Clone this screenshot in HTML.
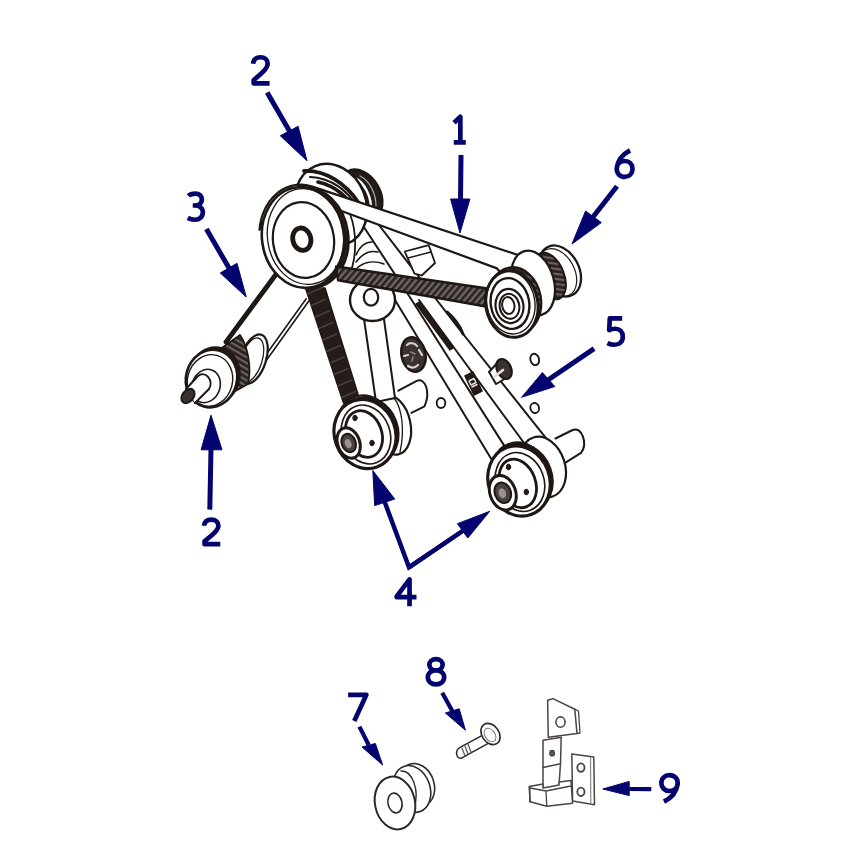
<!DOCTYPE html>
<html><head><meta charset="utf-8"><style>
html,body{margin:0;padding:0;background:#fff;}
body{width:842px;height:858px;overflow:hidden;font-family:"Liberation Sans",sans-serif;}
svg{display:block;}
</style></head><body>
<svg width="842" height="858" viewBox="0 0 842 858">
<rect width="842" height="858" fill="#fff"/>
<defs>
<pattern id="hatch" width="5" height="5" patternUnits="userSpaceOnUse" patternTransform="rotate(40)">
<rect width="5" height="5" fill="#6e6662"/><rect width="2.6" height="5" fill="#2a2220"/></pattern>
<pattern id="hatchd" width="5" height="5" patternUnits="userSpaceOnUse" patternTransform="rotate(-60)">
<rect width="5" height="5" fill="#6a605c"/><rect width="2.8" height="5" fill="#2a2220"/></pattern>
</defs>
<g fill="none" stroke="#1e1713" stroke-linejoin="round" stroke-linecap="round">

<path d="M306.2,298.8 L250,377" stroke-width="1.6" fill="none" />
<path d="M309.2,300.5 L253,379" stroke-width="1.6" fill="none" />
<ellipse cx="253.5" cy="359" rx="12.5" ry="25.5" transform="rotate(18 253.5 359)" fill="#fff" stroke-width="2.2" />
<ellipse cx="251.5" cy="360" rx="10.5" ry="23" transform="rotate(18 251.5 360)" fill="none" stroke-width="1.2" />
<path d="M219,350 L240,335 C247,345 252,366 248,384 L230,394 Z" fill="url(#hatchd)" stroke-width="1.8" />
<path d="M277,273 L226,342" stroke-width="4.8" fill="none" />
<ellipse cx="214" cy="376" rx="25.5" ry="29" transform="rotate(15 214 376)" fill="#241c19" stroke-width="2" />
<ellipse cx="211.5" cy="378.5" rx="25.5" ry="29" transform="rotate(15 211.5 378.5)" fill="#fff" stroke-width="2.6" />
<ellipse cx="210" cy="380.5" rx="22.5" ry="26" transform="rotate(15 210 380.5)" fill="none" stroke-width="1.4" />
<ellipse cx="206" cy="386" rx="14" ry="17" transform="rotate(20 206 386)" fill="none" stroke-width="1.6" />
<path d="M186,389 L198,376 C206,370 214,381 209,389 L195,403" fill="#fff" stroke-width="2" />
<ellipse cx="188" cy="396" rx="5.6" ry="8" transform="rotate(38 188 396)" fill="#3a3230" stroke-width="2" />
<path d="M382,278 L395.6,301 L491,458.5" stroke-width="2" fill="none" />
<path d="M356,215 L409.8,297 L504.2,445.6" stroke-width="2" fill="none" />
<path d="M419,300 L441,330 L527,447" stroke-width="2" fill="none" />
<path d="M372,216 L459.9,330 L549.8,442.8" stroke-width="2" fill="none" />
<polygon points="416,304 420,302 453,348 450,350" fill="#241c19" stroke-width="1.4" />
<polygon points="465,376 473,372 482,391 474,395" fill="#241c19" stroke-width="1.5" />
<path d="M469,381 l5,-2.5 l2,4 l-5,2.5 Z M472,387 l5,-2.5" fill="none" stroke-width="1.4" stroke="#e8e0dc" />
<polygon points="305.5,288 325,288 358.5,396 343.5,403" fill="#241c19" stroke-width="1.5" />
<path d="M307.5,294.0 l14,-6" stroke="#4a403c" stroke-width="1.4"/>
<path d="M311.3,305.5 l14,-6" stroke="#4a403c" stroke-width="1.4"/>
<path d="M315.1,317.0 l14,-6" stroke="#4a403c" stroke-width="1.4"/>
<path d="M318.9,328.5 l14,-6" stroke="#4a403c" stroke-width="1.4"/>
<path d="M322.7,340.0 l14,-6" stroke="#4a403c" stroke-width="1.4"/>
<path d="M326.5,351.5 l14,-6" stroke="#4a403c" stroke-width="1.4"/>
<path d="M330.3,363.0 l14,-6" stroke="#4a403c" stroke-width="1.4"/>
<path d="M334.1,374.5 l14,-6" stroke="#4a403c" stroke-width="1.4"/>
<path d="M337.9,386.0 l14,-6" stroke="#4a403c" stroke-width="1.4"/>
<path d="M341.7,397.5 l14,-6" stroke="#4a403c" stroke-width="1.4"/>
<ellipse cx="392" cy="425" rx="18.5" ry="30" transform="rotate(-12 392 425)" fill="#fff" stroke-width="2.2" />
<path d="M394,398 C402,408 405,430 400,452" fill="none" stroke-width="1.3" />
<polygon points="362,305 382,305 395,398 376,402" fill="#fff" stroke-width="2" />
<ellipse cx="372.5" cy="300" rx="22.5" ry="21" fill="#fff" stroke-width="2.4" />
<ellipse cx="371" cy="297.3" rx="7.2" ry="8.4" fill="#fff" stroke-width="2.2" />
<ellipse cx="413.5" cy="354.5" rx="12" ry="17.5" transform="rotate(-12 413.5 354.5)" fill="#3a3230" stroke-width="2.4" />
<path d="M407,345 C410,342 415,343 417,346 M404,356 l4,-1 M408,366 C411,368 415,368 418,365 M419,350 l3,5" fill="none" stroke-width="2.2" stroke="#d8d0cc" />
<path d="M411,352 l4,2 M413,357 l-1,4" fill="none" stroke-width="1.6" stroke="#8a807c" />
<path d="M398.4,390.7 L416.7,380.9 C425,377 431,392 424.5,406.4 L411.4,412.9" fill="#fff" stroke-width="2" />
<path d="M555.5,438.5 L572.6,430 C582,426 588,444 581,452.8 L565.5,462.7" fill="#fff" stroke-width="2" />
<path d="M489,372 L499,361 L508,377 L496,384 Z" fill="#fff" stroke-width="2" />
<ellipse cx="504" cy="369" rx="7" ry="10.5" transform="rotate(-25 504 369)" fill="#3a3230" stroke-width="2.2" />
<path d="M494,377 l9,-7" fill="none" stroke-width="2.6" stroke="#e8e0dc" />
<path d="M447,312 C454,318 460,326 463,334" fill="none" stroke-width="3" />
<ellipse cx="361" cy="195" rx="19" ry="27" transform="rotate(-30 361 195)" fill="#241c19" stroke-width="2.6" />
<path d="M354,178 C365,182 372,198 371,212" fill="none" stroke-width="2.4" stroke="#fff" />
<path d="M360,176 C370,181 376,194 376,206" fill="none" stroke-width="1.2" stroke="#aaa" />
<ellipse cx="331" cy="205" rx="35" ry="42" transform="rotate(-22 331 205)" fill="#fff" stroke-width="2.5" />
<path d="M304,171 C326,170 346,184 358,202" fill="none" stroke-width="3.8" />
<path d="M310,177 C332,178 348,191 357,207" fill="none" stroke-width="2.2" />
<path d="M318,182 C336,186 349,198 355,212" fill="none" stroke-width="3.6" />
<path d="M259.5,229.8 L260.3,223.5 L261.7,217.4 L263.8,211.7 L266.4,206.3 L269.5,201.4 L273.2,197.0 L277.2,193.2 L281.7,190.0 L286.5,187.6 L291.5,185.9 L296.7,184.9 L301.9,184.7 L307.2,185.3 L312.4,186.6 L530,259 L512,285 L497,268.4 L336,209 C326,197 312,190 296,190 C284,192 270,204 259.5,229.8 Z" fill="#fff" stroke-width="2.2" />
<ellipse cx="308.5" cy="237.5" rx="40" ry="50.5" transform="rotate(-8 308.5 237.5)" fill="#241c19" stroke-width="2" />
<path d="M350,214 C357,232 357,258 349,276" fill="none" stroke-width="1.8" />
<path d="M356,262 C362,254 370,250 378,252 M356,255 C360,246 366,242 372,242 M357,268 C364,262 374,260 384,264" fill="none" stroke-width="1.5" />
<ellipse cx="303" cy="237.5" rx="41" ry="50.5" transform="rotate(-8 303 237.5)" fill="#fff" stroke-width="2.6" />
<ellipse cx="305.5" cy="236.5" rx="38" ry="48" transform="rotate(-8 305.5 236.5)" fill="none" stroke-width="1.3" />
<ellipse cx="303.5" cy="240" rx="30.5" ry="38" transform="rotate(-8 303.5 240)" fill="#fff" stroke-width="2.2" />
<ellipse cx="301.8" cy="239.2" rx="9" ry="11.3" transform="rotate(-14 301.8 239.2)" fill="none" stroke-width="4.8" />
<polygon points="336,266.5 486,288.2 486,306.5 338,280.2" fill="url(#hatch)" stroke-width="2.4" />
<polygon points="404.7,251.5 428.8,245.2 435,263 421.7,275.5 414.5,273.7" fill="#fff" stroke-width="1.8" />
<path d="M408,258 L431,252" stroke-width="1.4" fill="none" />
<ellipse cx="560" cy="271" rx="19" ry="27" transform="rotate(-28 560 271)" fill="#fff" stroke-width="2.3" />
<ellipse cx="557.5" cy="272.5" rx="17" ry="25.5" transform="rotate(-28 557.5 272.5)" fill="none" stroke-width="1.2" />
<ellipse cx="550" cy="276" rx="14" ry="24.5" transform="rotate(-22 550 276)" fill="url(#hatchd)" stroke-width="2" />
<ellipse cx="533" cy="283" rx="21" ry="33" transform="rotate(-15 533 283)" fill="#fff" stroke-width="2.3" />
<ellipse cx="515" cy="300.5" rx="26" ry="33.5" transform="rotate(-10 515 300.5)" fill="url(#hatchd)" stroke-width="2.2" />
<ellipse cx="511.8" cy="304" rx="26" ry="33.5" transform="rotate(-10 511.8 304)" fill="#fff" stroke-width="3" />
<ellipse cx="510.8" cy="302.6" rx="24" ry="31.5" transform="rotate(-10 510.8 302.6)" fill="none" stroke-width="1.4" />
<ellipse cx="510" cy="303.5" rx="19.2" ry="25.5" transform="rotate(-10 510 303.5)" fill="none" stroke-width="2.4" />
<ellipse cx="509.5" cy="306" rx="13.9" ry="17.1" transform="rotate(-10 509.5 306)" fill="none" stroke-width="2.2" />
<ellipse cx="509.5" cy="306.3" rx="9.8" ry="12.6" transform="rotate(-10 509.5 306.3)" fill="none" stroke-width="2" />
<ellipse cx="508.3" cy="305.5" rx="6.1" ry="8.5" transform="rotate(-10 508.3 305.5)" fill="none" stroke-width="2" />
<ellipse cx="366" cy="428" rx="28" ry="33" transform="rotate(-20 366 428)" fill="#fff" stroke-width="2.2" />
<ellipse cx="367.5" cy="431.5" rx="30.5" ry="35" transform="rotate(-20 367.5 431.5)" fill="#241c19" stroke-width="2" />
<ellipse cx="365" cy="434" rx="30.5" ry="35" transform="rotate(-20 365 434)" fill="#fff" stroke-width="3.2" />
<ellipse cx="366" cy="434.5" rx="24" ry="30" transform="rotate(-20 366 434.5)" fill="none" stroke-width="1.6" />
<ellipse cx="364" cy="434" rx="17.7" ry="24" transform="rotate(-20 364 434)" fill="none" stroke-width="2.8" />
<ellipse cx="348.7" cy="443" rx="11" ry="15.7" transform="rotate(-20 348.7 443)" fill="#fff" stroke-width="3" />
<ellipse cx="348.7" cy="443" rx="7" ry="9.5" transform="rotate(-20 348.7 443)" fill="#4a4240" stroke-width="2" />
<ellipse cx="348.2" cy="443.5" rx="3.2" ry="4.6" transform="rotate(-20 348.2 443.5)" fill="#9a9290" stroke-width="0" />
<ellipse cx="355" cy="418" rx="2.2" ry="2.8" fill="#241c19" stroke-width="1" />
<ellipse cx="372" cy="443" rx="2.2" ry="2.8" fill="#241c19" stroke-width="1" />
<ellipse cx="543" cy="467" rx="22" ry="31" transform="rotate(-18 543 467)" fill="#fff" stroke-width="2.2" />
<ellipse cx="520" cy="475" rx="28" ry="33" transform="rotate(-20 520 475)" fill="#fff" stroke-width="2.2" />
<ellipse cx="521.5" cy="478.5" rx="30.6" ry="35.6" transform="rotate(-20 521.5 478.5)" fill="#241c19" stroke-width="2" />
<ellipse cx="519" cy="481" rx="30.6" ry="35.6" transform="rotate(-20 519 481)" fill="#fff" stroke-width="3.2" />
<ellipse cx="520" cy="482" rx="24" ry="30" transform="rotate(-20 520 482)" fill="none" stroke-width="1.6" />
<ellipse cx="517.7" cy="483.4" rx="17.8" ry="25" transform="rotate(-20 517.7 483.4)" fill="none" stroke-width="2.8" />
<ellipse cx="502.8" cy="492.7" rx="12.8" ry="17.8" transform="rotate(-20 502.8 492.7)" fill="#fff" stroke-width="3" />
<ellipse cx="502.8" cy="492.7" rx="8" ry="10.5" transform="rotate(-20 502.8 492.7)" fill="#4a4240" stroke-width="2" />
<ellipse cx="502.3" cy="493.2" rx="3.6" ry="5" transform="rotate(-20 502.3 493.2)" fill="#9a9290" stroke-width="0" />
<ellipse cx="508.5" cy="467" rx="2.2" ry="2.8" fill="#241c19" stroke-width="1" />
<ellipse cx="526.3" cy="492" rx="2.2" ry="2.8" fill="#241c19" stroke-width="1" />
<ellipse cx="534.7" cy="359.4" rx="4.3" ry="5.8" transform="rotate(-15 534.7 359.4)" fill="none" stroke-width="1.9" />
<ellipse cx="534.7" cy="408" rx="4.3" ry="5" transform="rotate(-15 534.7 408)" fill="none" stroke-width="1.9" />
<ellipse cx="441" cy="403" rx="4.3" ry="5" fill="none" stroke-width="1.9" />
<ellipse cx="417" cy="785" rx="17" ry="22" transform="rotate(-20 417 785)" fill="#fff" stroke-width="1.6" stroke="#2e2826" />
<ellipse cx="412" cy="789" rx="18" ry="24" transform="rotate(-20 412 789)" fill="#fff" stroke-width="1.6" stroke="#2e2826" />
<path d="M401,771 C412,770 420,790 414,808" fill="none" stroke-width="1.4" stroke="#2e2826" />
<ellipse cx="395" cy="803" rx="20" ry="26.6" transform="rotate(-12 395 803)" fill="#fff" stroke-width="2" stroke="#2e2826" />
<ellipse cx="395" cy="803" rx="7" ry="10" transform="rotate(-12 395 803)" fill="none" stroke-width="1.6" stroke="#2e2826" />
<path d="M461.4,746.6 L484.7,734.1 L491.4,741.6 L461.4,758.2 C456,759 454,750 461.4,746.6 Z" fill="#fff" stroke-width="1.5" stroke="#2e2826" />
<path d="M462,748 l3,8 M465,746 l3,8 M468,744 l3,8" fill="none" stroke-width="1.2" stroke="#555" />
<ellipse cx="490.5" cy="734" rx="8.5" ry="11.5" transform="rotate(-35 490.5 734)" fill="#fff" stroke-width="1.7" stroke="#2e2826" />
<ellipse cx="490" cy="735" rx="5" ry="7.5" transform="rotate(-35 490 735)" fill="none" stroke-width="1" stroke="#777" />
<path d="M547.6,700.2 L552.9,698.6 L574.8,709.2 L577,733.5 L548.3,737.3 Z" fill="#fff" stroke-width="1.5" stroke="#4a4442" />
<path d="M574.8,709.2 L578.5,711 L580,733 L577,733.5" fill="none" stroke-width="1.3" stroke="#4a4442" />
<ellipse cx="560.5" cy="722.1" rx="4.6" ry="5.2" fill="none" stroke-width="1.6" stroke="#4a4442" />
<path d="M543,740.3 L561.2,737.3 L560.5,763.8 L543,767.6 Z" fill="#fff" stroke-width="1.5" stroke="#4a4442" />
<ellipse cx="552.1" cy="753.2" rx="2.4" ry="2.8" fill="#555" stroke-width="1.2" stroke="#4a4442" />
<path d="M543,767.6 L543,788 M560.5,763.8 L559,785" fill="none" stroke-width="1.5" stroke="#4a4442" />
<path d="M529.4,786.5 L530,801.7 L546.8,806.2 L572.6,803.2 L571,780.5 L559,782 L559,785 L543,788 L543,784 Z" fill="#fff" stroke-width="1.5" stroke="#4a4442" />
<path d="M530,788 L546,791 L571,786 M546,791 L546.8,806.2" fill="none" stroke-width="1.3" stroke="#4a4442" />
<path d="M529.4,786.5 L530,801.7" fill="none" stroke-width="1.5" stroke="#4a4442" />
<path d="M571.8,754 L593.8,757 L594.5,804.7 L572.6,800.9 Z" fill="#fff" stroke-width="1.5" stroke="#4a4442" />
<path d="M590.5,757 L590.8,804" fill="none" stroke-width="1.2" stroke="#888" />
<ellipse cx="580.9" cy="767.6" rx="3.6" ry="4.2" fill="none" stroke-width="1.8" stroke="#4a4442" />
<ellipse cx="580.9" cy="791.8" rx="3.6" ry="4.2" fill="none" stroke-width="1.8" stroke="#4a4442" />
</g>
<path d="M267.2,92.5 L290,132" stroke="#04046e" stroke-width="5.0" fill="none" stroke-linecap="butt" stroke-linejoin="miter" stroke-miterlimit="10"/>
<polygon points="307,160.8 280.3,135.8 298.1,126.3" fill="#04046e" stroke="#04046e" stroke-width="1" stroke-linejoin="round"/>
<path d="M461,155 L460.5,200" stroke="#04046e" stroke-width="5.0" fill="none" stroke-linecap="butt" stroke-linejoin="miter" stroke-miterlimit="10"/>
<polygon points="460,233 450.6,199 469.9,199" fill="#04046e" stroke="#04046e" stroke-width="1" stroke-linejoin="round"/>
<path d="M617,186.3 L593,217" stroke="#04046e" stroke-width="5.0" fill="none" stroke-linecap="butt" stroke-linejoin="miter" stroke-miterlimit="10"/>
<polygon points="572,244 585.6,211 601.3,222.6" fill="#04046e" stroke="#04046e" stroke-width="1" stroke-linejoin="round"/>
<path d="M206.4,229 L229,268" stroke="#04046e" stroke-width="5.0" fill="none" stroke-linecap="butt" stroke-linejoin="miter" stroke-miterlimit="10"/>
<polygon points="246.2,297 220.3,273 237,263.3" fill="#04046e" stroke="#04046e" stroke-width="1" stroke-linejoin="round"/>
<path d="M594.1,348.6 L548,380" stroke="#04046e" stroke-width="5.0" fill="none" stroke-linecap="butt" stroke-linejoin="miter" stroke-miterlimit="10"/>
<polygon points="521.6,397.3 542.4,372.6 554.8,386.5" fill="#04046e" stroke="#04046e" stroke-width="1" stroke-linejoin="round"/>
<path d="M209.8,509.6 L211,449" stroke="#04046e" stroke-width="5.0" fill="none" stroke-linecap="butt" stroke-linejoin="miter" stroke-miterlimit="10"/>
<polygon points="211,415.2 201.1,449.8 222,449.8" fill="#04046e" stroke="#04046e" stroke-width="1" stroke-linejoin="round"/>
<path d="M384.7,502 L409,567.4 L462.6,531" stroke="#04046e" stroke-width="4.5" fill="none" stroke-linecap="butt" stroke-linejoin="miter" stroke-miterlimit="10"/>
<polygon points="372.8,470.5 374.7,505.6 394.7,499" fill="#04046e" stroke="#04046e" stroke-width="1" stroke-linejoin="round"/>
<path d="M409,567.4 L462.6,531" stroke="#04046e" stroke-width="4.5" fill="none" stroke-linecap="butt" stroke-linejoin="miter" stroke-miterlimit="10"/>
<polygon points="489.7,511.3 457.4,523.7 467.8,538" fill="#04046e" stroke="#04046e" stroke-width="1" stroke-linejoin="round"/>
<path d="M359.4,726.6 L368.7,745" stroke="#04046e" stroke-width="4.2" fill="none" stroke-linecap="butt" stroke-linejoin="miter" stroke-miterlimit="10"/>
<polygon points="382.6,765 362,747 375.4,743.5" fill="#04046e" stroke="#04046e" stroke-width="1" stroke-linejoin="round"/>
<path d="M442.2,692.8 L452.3,711" stroke="#04046e" stroke-width="4.2" fill="none" stroke-linecap="butt" stroke-linejoin="miter" stroke-miterlimit="10"/>
<polygon points="465.4,730.2 445.4,713 459.2,708.8" fill="#04046e" stroke="#04046e" stroke-width="1" stroke-linejoin="round"/>
<path d="M651.3,789.2 L629.2,789" stroke="#04046e" stroke-width="4.2" fill="none" stroke-linecap="butt" stroke-linejoin="miter" stroke-miterlimit="10"/>
<polygon points="602.8,789 629.2,781.4 629.2,795.6" fill="#04046e" stroke="#04046e" stroke-width="1" stroke-linejoin="round"/>
<path transform="translate(250.5,55) scale(0.975,1.020)" d="M2.6,8.6 C3.2,4.4 6.2,2.2 10.2,2.2 C14.6,2.2 17.6,4.8 17.6,8.6 C17.6,12.4 14.8,15 11,18.2 L3.2,24.8 L3.2,27.8 L19.6,27.8" fill="none" stroke="#04046e" stroke-width="4.7" stroke-linejoin="round" vector-effect="non-scaling-stroke"/>
<path transform="translate(452.7,114.3) scale(0.648,1.020)" d="M2.0,8.2 L11.8,2.4 L11.8,27.6 M1.6,27.6 L20.2,27.6" fill="none" stroke="#04046e" stroke-width="4.7" stroke-linejoin="round" vector-effect="non-scaling-stroke"/>
<path transform="translate(614,147.8) scale(1.040,1.047)" d="M15.4,2.4 C9.5,5.5 3.8,11 2.6,19.5 C2.4,24.5 5.8,27.8 10.2,27.8 C14.6,27.8 17.8,24.6 17.8,20.2 C17.8,15.8 14.6,12.6 10.4,12.6 C6.8,12.6 3.8,14.8 2.8,18" fill="none" stroke="#04046e" stroke-width="4.7" stroke-linejoin="round" vector-effect="non-scaling-stroke"/>
<path transform="translate(185.4,191.3) scale(0.980,1.023)" d="M3,4.5 C4.8,2.8 7.5,2.2 10,2.2 C14.5,2.2 16.8,4.6 16.8,8 C16.8,11.6 14,13.9 9.5,13.9 L7.5,13.9 M9.5,13.9 C14.8,13.9 17.8,16.6 17.8,20.6 C17.8,25 14.4,27.8 9.6,27.8 C6.9,27.8 4.6,27.2 2.4,26" fill="none" stroke="#04046e" stroke-width="4.7" stroke-linejoin="round" vector-effect="non-scaling-stroke"/>
<path transform="translate(605,316.2) scale(1.000,1.027)" d="M17.2,2.2 L4.8,2.2 L4.2,13.6 C6,12.6 8,12.2 10,12.2 C14.8,12.2 17.8,15.2 17.8,19.9 C17.8,24.8 14.4,27.8 9.4,27.8 C6.8,27.8 4.6,27.2 2.4,26.2" fill="none" stroke="#04046e" stroke-width="4.7" stroke-linejoin="round" vector-effect="non-scaling-stroke"/>
<path transform="translate(201.5,517.5) scale(0.960,0.960)" d="M2.6,8.6 C3.2,4.4 6.2,2.2 10.2,2.2 C14.6,2.2 17.6,4.8 17.6,8.6 C17.6,12.4 14.8,15 11,18.2 L3.2,24.8 L3.2,27.8 L19.6,27.8" fill="none" stroke="#04046e" stroke-width="4.7" stroke-linejoin="round" vector-effect="non-scaling-stroke"/>
<path transform="translate(394,577) scale(1.125,0.977)" d="M13.8,30 L13.8,2.4 L2.4,19.8 L2.4,20.6 L20,20.6" fill="none" stroke="#04046e" stroke-width="4.7" stroke-linejoin="round" vector-effect="non-scaling-stroke"/>
<path transform="translate(345.7,692.4) scale(1.100,1.020)" d="M2.2,2.4 L18.8,2.4 L7.8,28" fill="none" stroke="#04046e" stroke-width="4.7" stroke-linejoin="round" vector-effect="non-scaling-stroke"/>
<path transform="translate(425.3,657) scale(1.070,0.983)" d="M10,2.2 C13.6,2.2 16.2,4.6 16.2,7.8 C16.2,11 13.6,13.6 10,13.6 C6.4,13.6 3.8,11 3.8,7.8 C3.8,4.6 6.4,2.2 10,2.2 Z M10,13.6 C14.4,13.6 17.6,16.6 17.6,20.7 C17.6,24.8 14.4,27.8 10,27.8 C5.6,27.8 2.4,24.8 2.4,20.7 C2.4,16.6 5.6,13.6 10,13.6 Z" fill="none" stroke="#04046e" stroke-width="4.7" stroke-linejoin="round" vector-effect="non-scaling-stroke"/>
<path transform="translate(659,772.8) scale(1.075,1.047)" d="M4.6,27.6 C10.5,24.5 16.2,19 17.4,10.5 C17.6,5.5 14.2,2.2 9.8,2.2 C5.4,2.2 2.2,5.4 2.2,9.8 C2.2,14.2 5.4,17.4 9.6,17.4 C13.2,17.4 16.2,15.2 17.2,12" fill="none" stroke="#04046e" stroke-width="4.7" stroke-linejoin="round" vector-effect="non-scaling-stroke"/>
</svg>
</body></html>
